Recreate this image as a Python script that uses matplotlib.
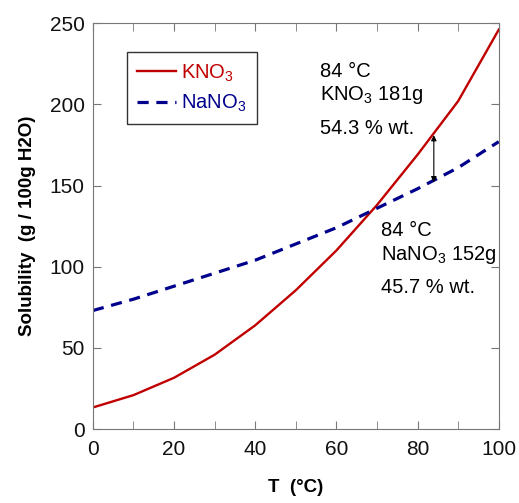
import matplotlib
matplotlib.use("Agg")
import matplotlib.pyplot as plt
from matplotlib.ticker import MultipleLocator

plt.rcParams['font.family'] = ['Liberation Sans', 'DejaVu Sans']
plt.rcParams['mathtext.default'] = 'regular'

# solubility in g per 100 g water
temps = [0, 10, 20, 30, 40, 50, 60, 70, 80, 90, 100]
kno3 = [13.3, 20.9, 31.6, 45.8, 63.9, 85.5, 110, 138, 169, 202, 246]
nano3 = [73, 80, 88, 96, 104, 114, 124, 136, 148, 161, 177]

t_mark = 84
kno3_mark = 181
nano3_mark = 152
kno3_lines = ['84 °C', 'KNO$_3$ 181g', '54.3 % wt.']
nano3_lines = ['84 °C', 'NaNO$_3$ 152g', '45.7 % wt.']

red = '#c00000'
blue = '#00008c'

fig = plt.figure(figsize=(5.19, 5.03), dpi=100)
ax = fig.add_axes([0.179, 0.147, 0.782, 0.807])

ax.plot(temps, kno3, color=red, lw=1.7, label='KNO$_3$')
ax.plot(temps, nano3, color=blue, lw=2.3, ls=(0, (3.5, 2.4)), label='NaNO$_3$')

ax.annotate('', xy=(t_mark, kno3_mark), xytext=(t_mark, nano3_mark),
            arrowprops=dict(arrowstyle='<|-|>', color='black', lw=0.8,
                            mutation_scale=8, shrinkA=0, shrinkB=0))

# one text per line so the spacing around the subscripts can be set
for y, s in zip([220.5, 205.5, 185], kno3_lines):
    ax.text(56, y, s, fontsize=14.5, va='center', ha='left')
for y, s in zip([122.5, 107, 87], nano3_lines):
    ax.text(71, y, s, fontsize=14.5, va='center', ha='left')

ax.set_xlim(0, 100)
ax.set_ylim(0, 250)
ax.xaxis.set_major_locator(MultipleLocator(20))
ax.xaxis.set_minor_locator(MultipleLocator(10))
ax.yaxis.set_major_locator(MultipleLocator(50))
ax.tick_params(which='both', direction='in', top=True, right=True, length=6,
               colors='#777777', labelcolor='#111111', labelsize=15)
ax.tick_params(axis='x', pad=8)
ax.tick_params(axis='y', pad=6)
for s in ax.spines.values():
    s.set_color('#777777')

ax.set_xlabel('T  (°C)', fontsize=13.5, fontweight='bold', labelpad=14)
ax.set_ylabel('Solubility  (g / 100g H2O)', fontsize=13.5, fontweight='bold', labelpad=10)

leg = ax.legend(loc='upper left', bbox_to_anchor=(0.084, 0.928), fontsize=14.5,
                frameon=True, fancybox=False, handlelength=1.95, handletextpad=0.25,
                borderpad=0.5, labelspacing=0.45, borderaxespad=0)
leg.get_frame().set_edgecolor('black')
leg.get_frame().set_linewidth(1.0)
for txt, c in zip(leg.get_texts(), [red, blue]):
    txt.set_color(c)

fig.savefig('out.png', dpi=100)
